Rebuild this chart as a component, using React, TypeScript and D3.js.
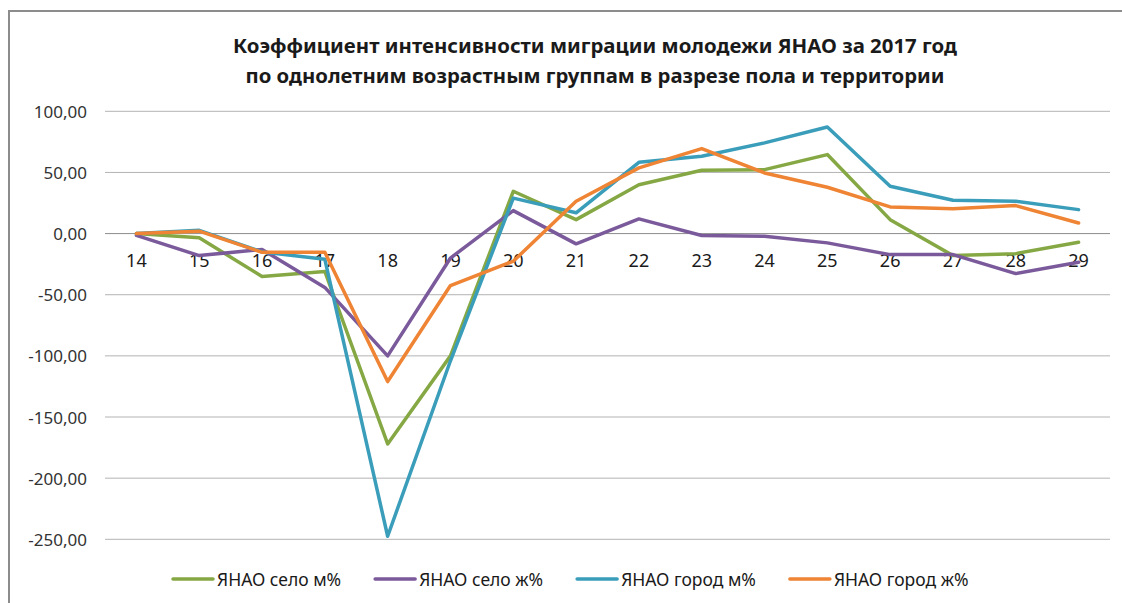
import { line, scaleBand, scaleLinear } from "d3";

const ages = ["14", "15", "16", "17", "18", "19", "20", "21", "22", "23", "24", "25", "26", "27", "28", "29"];

const seloM = [0, -3.5, -35, -31, -172, -100, 34.6, 11.4, 40, 51.8, 52.3, 64.6, 11.4, -18, -16.4, -7.1];
const seloZh = [-1.4, -18, -13, -44, -100, -20, 18.8, -8.4, 12, -1.6, -2.2, -7.6, -17.2, -17.2, -32.7, -23.5];
const gorodM = [0, 2.7, -15, -21, -247.5, -104, 29, 17, 58.3, 63.2, 74.2, 87.2, 38.7, 27.3, 26.4, 19.6];
const gorodZh = [0, 2, -15.3, -15.3, -121, -42.5, -22.6, 26.4, 53.7, 69.5, 49.6, 37.9, 21.8, 20.4, 22.9, 8.7];

const seriesNames = ["ЯНАО село м%", "ЯНАО село ж%", "ЯНАО город м%", "ЯНАО город ж%"];
const seriesColors = ["#86a844", "#7b5a9b", "#3a9dba", "#ee8434"];
const yTicks = [100, 50, 0, -50, -100, -150, -200, -250];

const titleLines = [
  "Коэффициент интенсивности миграции молодежи ЯНАО за 2017 год",
  "по однолетним возрастным группам в разрезе пола и территории",
];

const FONT = "'Noto Sans', sans-serif";

function measure(text: string, font: string) {
  const ctx = document.createElement("canvas").getContext("2d");
  if (!ctx) return text.length * 10;
  ctx.font = font;
  return ctx.measureText(text).width;
}

export default function App() {
  const width = 1122;
  const height = 603;
  const plot = { left: 105, right: 1110, top: 111.3, bottom: 539.3 };

  const x = scaleBand().domain(ages).range([plot.left, plot.right]).padding(0);
  const y = scaleLinear().domain([-250, 100]).range([plot.bottom, plot.top]);
  const cx = (a: string) => (x(a) ?? 0) + x.bandwidth() / 2;

  const allSeries = [seloM, seloZh, gorodM, gorodZh];
  const path = line<number>()
    .x((_, i) => cx(ages[i]))
    .y((v) => y(v));

  const legendFont = `17.5px ${FONT}`;
  let lx = 173;
  const legendItems = seriesNames.map((name, i) => {
    const item = { name, color: seriesColors[i], x: lx };
    lx += 40 + 4 + measure(name, legendFont) + 34;
    return item;
  });

  return (
    <svg
      width={width}
      height={height}
      style={{ position: "fixed", left: 0, top: 0, background: "#fff" }}
      fontFamily={FONT}
    >
      <rect x={0} y={0} width={width} height={height} fill="#fff" />
      <line x1={9} x2={width + 5} y1={11} y2={11} stroke="#8c8c8c" strokeWidth={2} />
      <line x1={9} x2={9} y1={10} y2={height + 5} stroke="#8c8c8c" strokeWidth={2} />

      {titleLines.map((t, i) => (
        <text
          key={t}
          x={595}
          y={46 + i * 30}
          textAnchor="middle"
          dominantBaseline="central"
          fontSize={19}
          fontWeight="bold"
          fill="#1a1a1a"
          textLength={i === 0 ? 724 : 699}
          lengthAdjust="spacingAndGlyphs"
        >
          {t}
        </text>
      ))}

      <g>
        {yTicks.map((t) => (
          <g key={t}>
            <line
              x1={plot.left}
              x2={plot.right}
              y1={y(t)}
              y2={y(t)}
              stroke={t === 0 ? "#8c8c8c" : "#b3b3b3"}
              strokeWidth={1}
            />
            <text
              x={87}
              y={y(t)}
              textAnchor="end"
              dominantBaseline="central"
              fontSize={17}
              fill="#333"
            >
              {t.toFixed(2).replace(".", ",")}
            </text>
          </g>
        ))}
      </g>

      <g>
        {ages.map((a) => (
          <text
            key={a}
            x={cx(a)}
            y={y(0) + 26}
            textAnchor="middle"
            dominantBaseline="central"
            fontSize={18}
            fill="#1a1a1a"
          >
            {a}
          </text>
        ))}
      </g>

      <g fill="none" strokeWidth={3.5} strokeLinejoin="round" strokeLinecap="round">
        {allSeries.map((s, i) => (
          <path key={seriesNames[i]} d={path(s) ?? ""} stroke={seriesColors[i]} />
        ))}
      </g>

      <g>
        {legendItems.map((it) => (
          <g key={it.name}>
            <line
              x1={it.x}
              x2={it.x + 40}
              y1={579}
              y2={579}
              stroke={it.color}
              strokeWidth={3.5}
              strokeLinecap="round"
            />
            <text
              x={it.x + 44}
              y={579}
              dominantBaseline="central"
              fontSize={17.5}
              fill="#1a1a1a"
            >
              {it.name}
            </text>
          </g>
        ))}
      </g>
    </svg>
  );
}
